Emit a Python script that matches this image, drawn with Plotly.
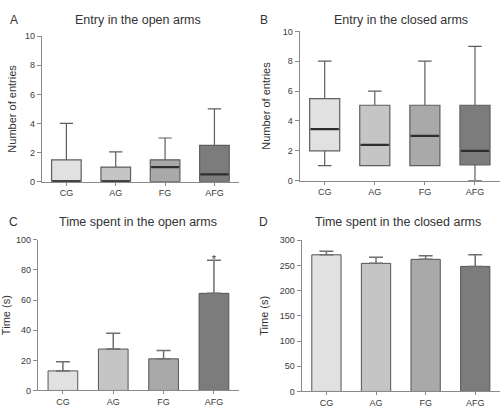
import plotly.graph_objects as go

groups = ["CG", "AG", "FG", "AFG"]
colors = ["#e1e1e1", "#c5c5c5", "#a9a9a9", "#7c7c7c"]

# Panel A: entries in open arms (box stats)
a_min = [0, 0, 0, 0]
a_q1 = [0, 0, 0, 0]
a_med = [0, 0, 1.0, 0.5]
a_q3 = [1.5, 1.0, 1.5, 2.5]
a_max = [4, 2.05, 3, 5]

# Panel B: entries in closed arms (box stats)
b_min = [1, 1, 1, 0]
b_q1 = [2, 1, 1, 1.05]
b_med = [3.45, 2.4, 3.0, 2.0]
b_q3 = [5.5, 5.05, 5.05, 5.05]
b_max = [8, 6, 8, 9]

# Panel C: time in open arms (mean, SEM)
c_mean = [13, 27.5, 21, 64.5]
c_err = [6, 10.5, 5.5, 22]
c_sig = ["", "", "", "*"]

# Panel D: time in closed arms (mean, SEM)
d_mean = [271, 254, 262, 248]
d_err = [7, 12, 7, 23]

FONT = "Liberation Sans, Arial, sans-serif"
W, H = 504, 414

def dx(a, b):
    return [a / W, b / W]

def dy(top, bottom):
    return [1 - bottom / H, 1 - top / H]

fig = go.Figure()

def add_boxes(xa, ya, mins, q1, med, q3, mx):
    for i, g in enumerate(groups):
        fig.add_trace(go.Box(
            x=[g], q1=[q1[i]], median=[med[i]], q3=[q3[i]],
            lowerfence=[mins[i]], upperfence=[mx[i]],
            fillcolor=colors[i], line=dict(color="#5e5e5e", width=1.2),
            width=0.6, whiskerwidth=0.45, boxpoints=False,
            showlegend=False, hoverinfo="skip", xaxis=xa, yaxis=ya))
    fig.add_trace(go.Scatter(
        x=groups, y=med, mode="markers",
        marker=dict(symbol="line-ew", size=20, line=dict(color="#2e2e2e", width=2.2)),
        showlegend=False, hoverinfo="skip", xaxis=xa, yaxis=ya))

def add_bars(xa, ya, mean, err):
    fig.add_trace(go.Bar(
        x=groups, y=mean, marker=dict(color=colors, line=dict(color="#555", width=1)),
        error_y=dict(type="data", symmetric=False, array=err, arrayminus=[0] * 4,
                     color="#6e6e6e", thickness=1.5, width=7),
        showlegend=False, hoverinfo="skip", xaxis=xa, yaxis=ya))

add_boxes("x", "y", a_min, a_q1, a_med, a_q3, a_max)
add_boxes("x2", "y2", b_min, b_q1, b_med, b_q3, b_max)
add_bars("x3", "y3", c_mean, c_err)
fig.add_trace(go.Scatter(
    x=groups, y=[m + e for m, e in zip(c_mean, c_err)], text=c_sig,
    mode="text", textposition="middle center",
    textfont=dict(size=11, color="#333", family=FONT),
    showlegend=False, hoverinfo="skip", xaxis="x3", yaxis="y3", cliponaxis=False))
add_bars("x4", "y4", d_mean, d_err)

TICKC = "#3a3a3a"
xcommon = dict(type="category", categoryorder="array", categoryarray=groups,
               range=[-0.5, 3.5], showline=True, linecolor="#8a8a8a", linewidth=1,
               ticks="outside", ticklen=3, tickcolor="#8a8a8a",
               tickfont=dict(size=9, color=TICKC, family=FONT),
               showgrid=False, zeroline=False, fixedrange=True)

def ycommon(rng, dtick, title, standoff):
    return dict(range=rng, dtick=dtick, showline=True, linecolor="#8a8a8a", linewidth=1,
                ticks="outside", ticklen=4, tickcolor="#8a8a8a",
                tickfont=dict(size=9, color=TICKC, family=FONT),
                showgrid=False, zeroline=False,
                title=dict(text=title, font=dict(size=11, color="#333", family=FONT),
                           standoff=standoff))

fig.update_layout(
    width=W, height=H, margin=dict(l=0, r=0, t=0, b=0),
    paper_bgcolor="white", plot_bgcolor="white",
    font=dict(family=FONT, color="#333"),
    bargap=0.41, boxmode="overlay",
    xaxis=dict(xcommon, domain=dx(38, 237), anchor="y"),
    yaxis=dict(ycommon([0, 10], 2, "Number of entries", 6), domain=dy(32, 181), anchor="x"),
    xaxis2=dict(xcommon, domain=dx(298, 500), anchor="y2"),
    yaxis2=dict(ycommon([0, 10], 2, "Number of entries", 9), domain=dy(27, 180), anchor="x2"),
    xaxis3=dict(xcommon, domain=dx(34, 237), anchor="y3"),
    yaxis3=dict(ycommon([0, 100], 20, "Time (s)", 8), domain=dy(240.7, 395), anchor="x3"),
    xaxis4=dict(xcommon, domain=dx(300, 500), anchor="y4"),
    yaxis4=dict(ycommon([0, 300], 50, "Time (s)", 8), domain=dy(241, 396), anchor="x4"),
)

titles = [
    ("A", 10, 15, "Entry in the open arms", 135),
    ("B", 262, 15, "Entry in the closed arms", 400),
    ("C", 10, 222, "Time spent in the open arms", 135),
    ("D", 262, 222, "Time spent in the closed arms", 397),
]
for letter, lx, py, title, tx in titles:
    fig.add_annotation(text=letter, x=lx / W, y=1 - py / H, xref="paper", yref="paper",
                       xanchor="center", yanchor="middle", showarrow=False,
                       font=dict(size=12, color="#333", family=FONT))
    fig.add_annotation(text=title, x=tx / W, y=1 - py / H, xref="paper", yref="paper",
                       xanchor="center", yanchor="middle", showarrow=False,
                       font=dict(size=12.5, color="#333", family=FONT))

fig.write_html("out.html")
